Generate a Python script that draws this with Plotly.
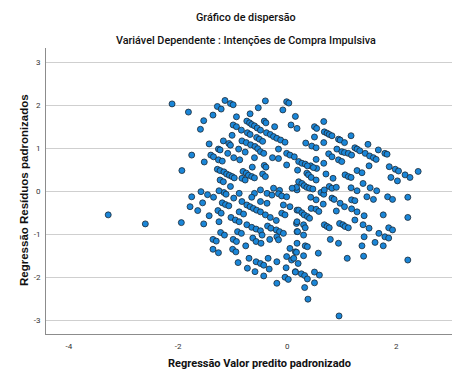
import plotly.graph_objects as go

title_line1 = "Gráfico de dispersão"
title_line2 = "Variável Dependente : Intenções de Compra Impulsiva"
x_title = "Regressão Valor predito padronizado"
y_title = "Regressão Resíduos padronizados"
x_ticks = [-4, -2, 0, 2]
y_ticks = [-3, -2, -1, 0, 1, 2, 3]

points = [
(-3.28,-0.54),(-2.60,-0.75),(-2.11,2.04),(-1.81,1.85),(-1.53,1.65),(-1.59,1.45),(-1.36,1.78),(-1.28,1.98),(-1.21,1.92),(-1.14,2.12),(-1.04,2.05),(-0.99,2.02),(-0.93,1.74),(-0.68,1.81),(-0.53,1.95),(-0.40,2.11),(-0.01,2.09),(0.03,2.06),(-0.08,1.90),(0.15,1.75),(0.07,1.55),(0.18,1.47),
(-1.43,1.11),(-1.75,0.85),(-1.52,0.69),(-1.93,0.49),
(-0.99,1.55),(-0.93,1.51),(-1.01,1.31),(-1.17,1.18),(-1.07,1.12),(-1.04,1.08),(-0.84,1.43),(-0.83,1.18),
(-0.74,1.64),(-0.69,1.60),(-0.65,1.56),(-0.60,1.53),(-0.55,1.48),(-0.49,1.43),
(-0.73,1.37),(-0.68,1.33),
(-0.75,1.14),(-0.67,1.09),(-0.59,1.05),(-0.54,1.00),
(-0.42,1.64),(-0.39,1.60),(-0.23,1.51),
(-0.38,1.37),(-0.31,1.33),(-0.25,1.28),(-0.19,1.24),(-0.12,1.20),(-0.04,1.15),
(-0.56,1.26),(-0.51,1.22),(-0.45,1.17),
(-0.16,0.99),
(-1.26,0.99),(-1.23,0.97),(-1.40,0.85),(-1.35,0.81),(-1.26,0.74),(-1.19,0.71),(-1.09,0.89),(-0.98,0.79),(-0.87,0.74),(-0.89,0.99),(-0.77,0.92),(-0.60,0.79),
(-1.28,0.52),(-1.23,0.49),(-1.16,0.46),(-1.11,0.41),(-1.06,0.38),(-1.01,0.35),(-0.97,0.32),
(-0.64,0.57),(-0.81,0.47),(-0.75,0.43),(-0.71,0.38),(-0.65,0.35),(-0.60,0.32),
(-0.42,0.61),(-0.39,0.57),(-0.45,0.41),(-0.40,0.35),(-0.27,0.79),
(-0.16,0.77),(-0.01,0.89),(0.05,0.85),(0.13,0.81),(-0.01,0.62),
(-1.16,-0.02),(-1.04,0.12),(-0.88,-0.04),(-0.60,-0.04),(-0.49,0.04),(-0.25,0.08),(-0.14,0.03),(0.18,0.04),
(-1.23,0.27),(-1.17,0.23),(-0.83,0.31),(-0.77,0.27),(-0.49,0.93),(-0.43,0.89),
(-1.75,-0.12),(-1.58,0.0),(-1.46,-0.07),(-1.35,-0.13),(-1.78,-0.35),(-1.55,-0.26),(-1.64,-0.44),(-1.43,-0.56),(-1.94,-0.72),(-1.53,-0.75),
(-1.25,0.02),(-1.12,-0.06),(-0.98,-0.15),(-1.19,-0.26),(-1.13,-0.30),(-1.07,-0.33),(-1.27,-0.44),(-1.21,-0.50),(-1.25,-0.70),(-1.03,-0.60),(-0.95,-0.66),(-0.88,-0.70),
(-1.22,-0.95),(-1.15,-1.01),(-1.36,-1.11),(-1.30,-1.15),(-1.36,-1.34),(-1.26,-1.42),(-0.99,-1.11),(-0.93,-1.16),(-1.00,-1.34),(-0.94,-1.40),(-0.90,-1.65),
(-0.83,-0.23),(-0.74,-0.31),(-0.68,-0.35),(-0.62,-0.39),(-0.56,-0.43),(-0.49,-0.47),(-0.88,-0.47),(-0.80,-0.52),
(-0.65,-0.13),(-0.49,-0.23),(-0.37,-0.27),
(-0.37,-0.04),(-0.28,-0.08),(-0.16,-0.05),(-0.10,-0.10),(-0.01,-0.12),
(-0.40,-0.54),(-0.31,-0.60),(-0.20,-0.67),(-0.10,-0.50),(-0.04,-0.54),
(-0.74,-0.77),(-0.65,-0.83),(-0.57,-0.87),(-0.49,-0.91),(-0.91,-0.93),(-0.84,-0.97),
(-0.36,-0.80),(-0.30,-0.85),(-0.20,-0.89),(-0.14,-0.93),(-0.07,-0.97),
(-0.63,-1.08),(-0.57,-1.16),(-0.46,-1.01),(-0.76,-1.26),(-0.48,-1.20),(-0.32,-1.11),(-0.19,-1.05),(-0.16,-1.12),
(-0.70,-1.55),(-0.57,-1.63),(-0.49,-1.67),(-0.43,-1.71),(-0.59,-1.86),(-0.43,-1.96),(-0.33,-1.80),(-0.35,-1.55),(-0.19,-1.63),(-0.73,-1.78),(-0.19,-2.13),(-0.04,-1.99),(0.02,-2.04),(-0.01,-1.51),(0.08,-1.59),(-0.02,-1.77),(0.15,-1.86),(0.05,-1.32),(0.15,-1.40),(0.18,-0.93),(0.18,-1.20),(-0.07,-0.31),(0.05,-0.35),(0.18,-0.43),(0.17,-0.74),
(0.67,1.63),(0.50,1.51),(0.54,1.47),(0.50,1.27),(0.68,1.39),(0.73,1.36),(0.77,1.33),(0.82,1.30),(0.67,1.14),(0.34,1.13),(0.45,1.06),(0.53,1.02),(0.94,1.22),(0.97,1.20),(1.05,1.14),(1.17,1.30),(0.91,0.99),(1.00,0.93),(1.05,0.91),(0.76,0.88),(0.82,0.81),(0.67,0.66),(0.94,0.74),(1.00,0.70),(1.12,0.89),(1.18,0.85),(1.24,1.02),(1.28,0.99),(1.33,0.95),(1.48,1.10),(1.43,0.89),(1.51,0.83),(1.58,0.79),(1.63,0.75),(1.67,0.97),(1.79,0.89),(1.83,0.87),(1.50,0.60),(1.87,0.58),(1.98,0.52),(2.04,0.48),(2.16,0.39),(2.25,0.33),(2.40,0.47),(1.90,0.33),(2.02,0.25),(1.28,0.49),(1.37,0.44),(1.06,0.39),(1.12,0.35),(1.17,0.33),(1.39,0.19),(1.17,0.09),(1.28,0.02),(1.52,0.09),(1.64,0.02),(1.46,-0.12),(1.58,-0.18),(1.84,-0.12),(1.93,-0.18),(2.21,-0.13),(2.21,-0.60),(2.21,-1.59),(1.76,-0.54),(1.41,-0.56),(1.24,-0.66),(1.50,-0.85),(1.86,-0.84),(1.93,-0.89),(1.39,-0.77),(1.68,-0.97),(1.79,-1.05),(1.86,-1.08),(1.61,-1.18),(1.76,-1.26),(1.41,-1.05),(1.37,-1.26),(1.40,-1.50),(1.10,-1.55),(0.94,-1.20),(0.79,-1.11),(0.96,-0.74),(1.02,-0.77),(1.06,-0.81),(1.12,-0.84),(0.68,-0.77),(0.73,-0.81),(0.77,-0.84),(1.18,-0.40),(1.28,-0.47),(1.18,-0.19),(1.24,-0.21),(0.97,-0.27),(1.05,-0.35),(0.90,-0.45),(0.82,-0.15),(0.86,-0.18),(0.77,0.12),(0.82,0.08),(0.90,0.10),(0.84,0.31),(0.71,0.41),(0.62,-0.02),(0.67,-0.06),(0.43,-0.13),(0.53,-0.19),(0.44,-0.39),(0.53,-0.41),(0.58,-0.46),(0.66,-0.29),(0.68,0.04),(0.53,0.75),(0.54,0.54),(0.43,0.60),(0.48,0.56),(0.36,0.43),(0.39,0.39),(0.44,0.33),(0.53,0.27),(0.21,0.70),(0.27,0.66),(0.33,0.64),(0.37,0.60),(0.19,0.50),(0.21,0.23),(0.27,0.19),(0.31,0.14),(0.36,0.10),(0.41,0.08),(0.47,0.06),(0.17,0.10),(0.09,0.08),(0.21,-0.43),(0.27,-0.49),(0.31,-0.54),(0.37,-0.58),(0.41,-0.62),(0.18,-0.70),(0.30,-0.77),(0.33,-0.84),(0.19,-0.93),(0.30,-1.01),(0.33,-1.26),(0.37,-1.28),(0.17,-1.41),(0.30,-1.49),(0.12,-1.55),(0.20,-1.67),(0.15,-1.87),(0.26,-1.91),(0.32,-1.95),(0.37,-2.03),(0.50,-1.87),(0.59,-1.94),(0.50,-2.12),(0.32,-2.23),(0.57,-1.43),(0.38,-2.50),(0.95,-2.89),
]
pred_x = [p[0] for p in points]
resid_y = [p[1] for p in points]

fig = go.Figure()
fig.add_trace(go.Scatter(
    x=pred_x, y=resid_y, mode="markers",
    marker=dict(size=6, color="#1a86d8", line=dict(color="#1c2833", width=0.8)),
    showlegend=False, hoverinfo="skip"))

W, H = 457, 372
ml, mr, mt, mb = 46, 5, 48, 38
pw, ph = W - ml - mr, H - mt - mb

narrow = "Roboto, Liberation Sans Narrow, sans-serif"

fig.update_layout(
    width=W, height=H, autosize=False,
    margin=dict(l=ml, r=mr, t=mt, b=mb, pad=0),
    plot_bgcolor="white", paper_bgcolor="white",
    xaxis=dict(range=[-4.42, 3.02], tickvals=x_ticks, ticktext=[str(v) for v in x_ticks],
               showgrid=False, zeroline=False, showline=True, linecolor="#8c8c8c", linewidth=1,
               ticks="", ticklabelstandoff=4,
               tickfont=dict(family=narrow, size=8, color="#333333")),
    yaxis=dict(range=[-3.31, 3.34], tickvals=y_ticks, ticktext=[str(v) for v in y_ticks],
               showgrid=True, gridcolor="#cfcfcf", gridwidth=1, zeroline=False,
               showline=True, linecolor="#8c8c8c", linewidth=1,
               ticks="", ticklabelstandoff=3,
               tickfont=dict(family=narrow, size=8, color="#333333")),
    font=dict(family=narrow, color="#000000"),
)

annots = [
    dict(text=title_line1, x=(245.5 - ml) / pw, y=1 + (mt - 18) / ph, size=10.8, weight=500, family=narrow, angle=0),
    dict(text=title_line2, x=(245.5 - ml) / pw, y=1 + (mt - 40) / ph, size=10.8, weight=500, family=narrow, angle=0),
    dict(text=x_title, x=(259 - ml) / pw, y=-(363 - (mt + ph)) / ph, size=11, weight="bold", family=narrow, angle=0),
    dict(text=y_title, x=(24 - ml) / pw, y=((mt + ph) - 190) / ph, size=11.5, weight="bold", family="Liberation Sans, Arial, sans-serif", angle=-90),
]
for a in annots:
    fig.add_annotation(text=a["text"], xref="paper", yref="paper", x=a["x"], y=a["y"],
                       xanchor="center", yanchor="middle", showarrow=False, textangle=a["angle"],
                       font=dict(family=a["family"], size=a["size"], color="#111111", weight=a["weight"]))

fig.write_html("out.html", post_script="document.body.style.margin='0';",
               config={"displayModeBar": False, "staticPlot": True})
